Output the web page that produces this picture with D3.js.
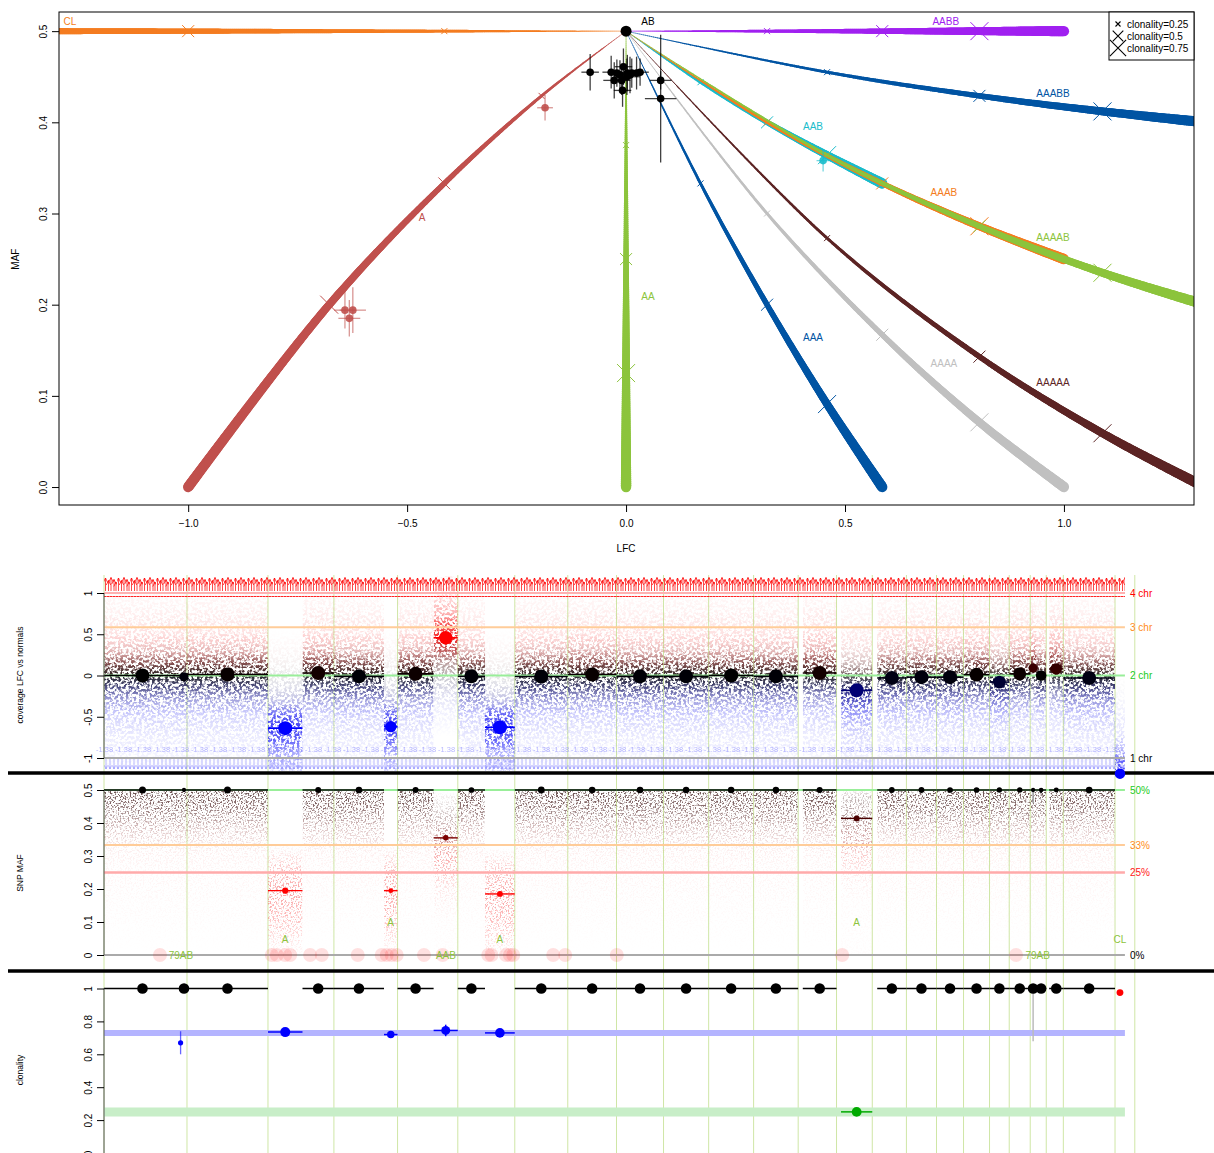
<!DOCTYPE html>
<html>
<head>
<meta charset="utf-8">
<script src="https://cdn.jsdelivr.net/npm/d3@7"></script>
<style>
  body { margin: 0; background: #fff; }
  svg { display: block; font-family: "Liberation Sans", Arial, Helvetica, sans-serif; }
</style>
</head>
<body>
<div class="canvas"></div>
<script>
// ---------- top plot: copy-number states, LFC/MAF at clonality 0, .25, .5, .75, 1 ----------
const states = ['A', 'AA', 'AAA', 'AAAA', 'AAAAA', 'AAB', 'AAAB', 'AAAAB', 'AABB', 'AAABB', 'CL'];
const clonalitySteps = [0, 0.25, 0.5, 0.75, 1];
const stateLFC = [
  [0, -0.193, -0.415, -0.678, -1],
  [0, 0, 0, 0, 0],
  [0, 0.170, 0.322, 0.459, 0.585],
  [0, 0.322, 0.585, 0.807, 1],
  [0, 0.459, 0.807, 1.088, 1.322],
  [0, 0.170, 0.322, 0.459, 0.585],
  [0, 0.322, 0.585, 0.807, 1],
  [0, 0.459, 0.807, 1.088, 1.322],
  [0, 0.322, 0.585, 0.807, 1],
  [0, 0.459, 0.807, 1.088, 1.322],
  [0, -0.415, -1, -2]
];
const stateMAF = [
  [0.5, 0.429, 0.333, 0.2, 0],
  [0.5, 0.375, 0.25, 0.125, 0],
  [0.5, 0.333, 0.2, 0.091, 0],
  [0.5, 0.3, 0.167, 0.071, 0],
  [0.5, 0.273, 0.143, 0.059, 0],
  [0.5, 0.444, 0.4, 0.364, 0.333],
  [0.5, 0.4, 0.333, 0.286, 0.25],
  [0.5, 0.364, 0.286, 0.235, 0.2],
  [0.5, 0.5, 0.5, 0.5, 0.5],
  [0.5, 0.455, 0.429, 0.412, 0.4],
  [0.5, 0.5, 0.5, 0.5]
];
const labelText = ['CL', 'AB', 'AABB', 'AAABB', 'AAB', 'AAAB', 'AAAAB', 'A', 'AA', 'AAA', 'AAAA', 'AAAAA'];
const labelLFC = [-1.27, 0.05, 0.73, 0.975, 0.427, 0.726, 0.975, -0.466, 0.05, 0.427, 0.726, 0.975];
const labelMAF = [0.511, 0.511, 0.511, 0.432, 0.395, 0.323, 0.274, 0.296, 0.209, 0.164, 0.135, 0.115];

// segment estimates shown in the top plot
const pointLFC = [0, -0.082, -0.034, -0.021, -0.006, 0.003, 0.013, 0.024, 0.032, -0.027, -0.010, 0.002, -0.008, 0.009, -0.014, 0.079, 0.079, -0.185, -0.642, -0.624, -0.632, 0.450];
const pointMAF = [0.5, 0.455, 0.455, 0.454, 0.461, 0.454, 0.454, 0.454, 0.455, 0.446, 0.446, 0.450, 0.435, 0.452, 0.452, 0.446, 0.426, 0.416, 0.194, 0.194, 0.185, 0.358];
const pointLFCErr = [0, 0.02, 0.02, 0.015, 0.02, 0.02, 0.025, 0.015, 0.02, 0.025, 0.02, 0.03, 0.02, 0.02, 0.015, 0.025, 0.036, 0.018, 0.025, 0.03, 0.025, 0.015];
const pointMAFErr = [0, 0.02, 0.018, 0.015, 0.02, 0.02, 0.016, 0.018, 0.015, 0.02, 0.016, 0.02, 0.018, 0.02, 0.016, 0.01, 0.07, 0.014, 0.02, 0.025, 0.02, 0.012];
const pointCall = ['AB', 'AB', 'AB', 'AB', 'AB', 'AB', 'AB', 'AB', 'AB', 'AB', 'AB', 'AB', 'AB', 'AB', 'AB', 'AB', 'AB', 'A', 'A', 'A', 'A', 'AAB'];
const legendClonality = [0.25, 0.5, 0.75];

// ---------- genome panels ----------
const chromNames = ['1','2','3','4','5','6','7','8','9','10','11','12','13','14','15','16','17','18','19','20','21','22','X','Y'];
const chromLengths = [249.25, 243.20, 198.02, 191.15, 180.92, 171.12, 159.14, 146.36, 141.21, 135.53, 135.01, 133.85, 115.17, 107.35, 102.53, 90.35, 81.20, 78.08, 59.13, 63.03, 48.13, 51.30, 155.27, 59.37];

// segments, genome position in Mb
const segStart = [0, 231.2, 249.25, 492.45, 596.1, 690.47, 840.9, 881.62, 989.9, 1062.54, 1144.2, 1233.66, 1392.80, 1539.16, 1680.37, 1815.90, 1950.91, 2098.6, 2213.4, 2322.1, 2409.81, 2500.16, 2581.36, 2659.44, 2718.57, 2781.60, 2799.0, 2838.5, 2881.03, 3036.30];
const segEnd = [231.2, 249.25, 492.45, 596.1, 690.47, 840.9, 881.62, 989.9, 1062.54, 1144.2, 1233.66, 1392.80, 1539.16, 1680.37, 1815.90, 1950.91, 2084.76, 2199.93, 2307.28, 2409.81, 2500.16, 2581.36, 2659.44, 2718.57, 2781.60, 2799.0, 2829.73, 2881.03, 3036.30, 3066];
const segLFC = [0, -0.016, 0.012, -0.638, 0.03, -0.01, -0.62, 0.02, 0.457, -0.01, -0.627, -0.012, 0.012, -0.01, -0.01, 0, -0.01, 0.03, -0.18, -0.03, -0.02, -0.02, 0.01, -0.08, 0.02, 0.09, 0, 0.08, -0.03, -1.19];
const segLFCErr = [0, 0, 0, 0.06, 0, 0, 0.03, 0, 0.05, 0, 0.04, 0, 0, 0, 0, 0, 0, 0, 0.02, 0, 0, 0, 0, 0, 0, 0, 0, 0, 0, 0];
const segMAF = [0.5, 0.5, 0.5, 0.195, 0.5, 0.5, 0.195, 0.5, 0.355, 0.5, 0.185, 0.5, 0.5, 0.5, 0.5, 0.5, 0.5, 0.5, 0.414, 0.5, 0.5, 0.5, 0.5, 0.5, 0.5, 0.5, 0.5, 0.5, 0.5, null];
const segMAFErr = [0, 0, 0, 0.005, 0, 0, 0.005, 0, 0.005, 0, 0.005, 0, 0, 0, 0, 0, 0, 0, 0.005, 0, 0, 0, 0, 0, 0, 0.04, 0.01, 0, 0.01, 0];
const segClonality = [1, 1, 1, 0.735, 1, 1, 0.72, 1, 0.745, 1, 0.73, 1, 1, 1, 1, 1, 1, 1, 0.25, 1, 1, 1, 1, 1, 1, 1, 1, 1, 1, 0.975];
const segClonalityErr = [0, 0, 0, 0.006, 0, 0, 0.015, 0, 0.035, 0, 0.02, 0, 0, 0, 0, 0, 0, 0, 0.005, 0, 0, 0, 0, 0, 0, 0.32, 0, 0, 0, 0];
const segClone = [0, 0, 0, 1, 0, 0, 1, 0, 1, 0, 1, 0, 0, 0, 0, 0, 0, 0, 2, 0, 0, 0, 0, 0, 0, 0, 0, 0, 0, 3];
const subclonePos = [230];
const subcloneClonality = [0.67];
const subcloneErr = [0.07];
const cloneLevels = [0.73, 0.25];

const callText = ['79AB', 'A', 'A', 'AAB', 'A', 'A', '79AB', 'CL'];
const callPos = [231, 544, 861, 1027, 1189, 2260, 2804, 3051];
const callMAF = [0, 0.048, 0.098, 0, 0.048, 0.098, 0, 0.048];
const homozygousPos = [168, 504, 519, 544, 559, 619, 654, 762, 834, 849, 864, 879, 961, 1017, 1154, 1164, 1207, 1219, 1229, 1349, 1385, 1540, 2217, 2739];

const copyLevels = [4, 3, 2, 1];
const mafLevels = [0.5, 1 / 3, 0.25, 0];
const mafLevelText = ['50%', '33%', '25%', '0%'];
const dataEndMb = 3066;

// ---------- styles ----------
const stateColors = ['#c0504d', '#8cc43c', '#0054a3', '#c0c0c0', '#5c2424', '#19bccb', '#f47c20', '#8cc43c', '#a020f0', '#0054a3', '#f47c20'];
const colorOf = name => name === 'AB' ? '#000' : stateColors[states.indexOf(name)];
const cloneColors = ['#000', '#0000ff', '#00aa00', '#ff0000'];
const copyColors = ['#ff0000', '#ff8c1a', '#22cc22', '#000'];
const copyLineColors = ['#ffb0b0', '#ffcc99', '#99ee99', '#aaaaaa'];
const mafColors = ['#22cc22', '#ff8c1a', '#ff2020', '#000'];
const mafLineColors = ['#99ee99', '#ffcc99', '#ffaaaa', '#aaaaaa'];
const font = '"Liberation Sans", Arial, Helvetica, sans-serif';

const svg = d3.select('.canvas')
    .append('svg')
    .attr('width', 1214)
    .attr('height', 1153);
const defs = svg.append('defs');

// ================= TOP PLOT =================
const xT = d3.scaleLinear().domain([-1.295, 1.297]).range([59, 1194]);
const yT = d3.scaleLinear().domain([-0.0197, 0.521]).range([505, 12]);

defs.append('clipPath').attr('id', 'clipTop')
    .append('rect').attr('x', 59).attr('y', 12).attr('width', 1135).attr('height', 493);

const topG = svg.append('g');
const curveG = topG.append('g').attr('clip-path', 'url(#clipTop)');
const lineGen = d3.line().curve(d3.curveCatmullRom.alpha(0.5));
const measure = svg.append('path').attr('fill', 'none').attr('stroke', 'none');

states.forEach((s, k) => {
    const pts = stateLFC[k].map((v, i) => [xT(v), yT(stateMAF[k][i])]);
    const lens = pts.map((p, i) => {
        if (i === 0) return 0;
        measure.attr('d', lineGen(pts.slice(0, i + 1)));
        return measure.node().getTotalLength();
    });
    measure.attr('d', lineGen(pts));
    const node = measure.node();
    const total = node.getTotalLength();
    const g = curveG.append('g')
        .attr('stroke', stateColors[k])
        .attr('stroke-linecap', 'round');
    const step = 2;
    let prev = node.getPointAtLength(0);
    for (let L = step; ; L += step) {
        const l = Math.min(L, total);
        const p = node.getPointAtLength(l);
        let i = 1;
        while (i < lens.length - 1 && lens[i] < l) i++;
        const f = Math.max(0, Math.min(1, (l - lens[i - 1]) / Math.max(1e-6, lens[i] - lens[i - 1])));
        const c = clonalitySteps[i - 1] + (clonalitySteps[i] - clonalitySteps[i - 1]) * f;
        g.append('line')
            .attr('x1', prev.x).attr('y1', prev.y)
            .attr('x2', p.x).attr('y2', p.y)
            .attr('stroke-width', 0.35 + 10 * c);
        prev = p;
        if (l >= total) break;
    }
    // clonality crosses
    [1, 2, 3].forEach(i => {
        if (i >= pts.length) return;
        const h = 3 * i;
        const [px, py] = pts[i];
        g.append('path')
            .attr('d', `M${px - h},${py - h}L${px + h},${py + h}M${px - h},${py + h}L${px + h},${py - h}`)
            .attr('stroke-width', 1)
            .attr('stroke-linecap', 'butt')
            .attr('fill', 'none');
    });
});
measure.remove();

// state labels
topG.append('g').selectAll('text')
    .data(labelText)
    .enter()
    .append('text')
    .attr('x', (d, i) => xT(labelLFC[i]))
    .attr('y', (d, i) => yT(labelMAF[i]))
    .attr('dy', '0.35em')
    .attr('text-anchor', 'middle')
    .attr('font-size', 10)
    .attr('fill', d => colorOf(d))
    .text(d => d);

// segment points with error bars
const ptG = topG.append('g');
pointLFC.forEach((v, i) => {
    const col = colorOf(pointCall[i]);
    const cx = xT(v), cy = yT(pointMAF[i]);
    const eg = ptG.append('g').attr('stroke', col).attr('stroke-opacity', pointCall[i] === 'AB' ? 0.75 : 0.6);
    if (pointLFCErr[i] > 0) {
        eg.append('line').attr('x1', xT(v - pointLFCErr[i])).attr('x2', xT(v + pointLFCErr[i]))
            .attr('y1', cy).attr('y2', cy).attr('stroke-width', 1.3);
    }
    if (pointMAFErr[i] > 0) {
        eg.append('line').attr('x1', cx).attr('x2', cx)
            .attr('y1', yT(pointMAF[i] - pointMAFErr[i])).attr('y2', yT(pointMAF[i] + pointMAFErr[i]))
            .attr('stroke-width', 1.3);
    }
});
ptG.selectAll('circle')
    .data(pointLFC)
    .enter()
    .append('circle')
    .attr('cx', d => xT(d))
    .attr('cy', (d, i) => yT(pointMAF[i]))
    .attr('r', (d, i) => pointLFCErr[i] === 0 ? 5.5 : 3.8)
    .attr('fill', (d, i) => colorOf(pointCall[i]))
    .attr('fill-opacity', (d, i) => pointCall[i] === 'AB' ? 1 : 0.9);

// box + axes
topG.append('rect').attr('x', 59).attr('y', 12).attr('width', 1135).attr('height', 493)
    .attr('fill', 'none').attr('stroke', '#000').attr('stroke-width', 1);

function styleAxis(g) {
    g.attr('font-family', font).attr('font-size', 10);
    g.select('.domain').attr('stroke', '#000');
}
function rotateLabels(g, off) {
    g.selectAll('.tick text')
        .attr('x', 0).attr('y', 0).attr('dy', 0)
        .attr('text-anchor', 'middle')
        .attr('transform', `translate(${-off},0) rotate(-90)`);
}

const yAxisTop = topG.append('g').attr('transform', 'translate(59,0)')
    .call(d3.axisLeft(yT).tickValues([0, 0.1, 0.2, 0.3, 0.4, 0.5]).tickFormat(d3.format('.1f')).tickSize(7).tickSizeOuter(0));
styleAxis(yAxisTop);
yAxisTop.select('.domain').remove();
rotateLabels(yAxisTop, 12);

const xAxisTop = topG.append('g').attr('transform', 'translate(0,505)')
    .call(d3.axisBottom(xT).tickValues([-1, -0.5, 0, 0.5, 1]).tickFormat(d3.format('.1f')).tickSize(7).tickPadding(8).tickSizeOuter(0));
styleAxis(xAxisTop);
xAxisTop.select('.domain').remove();

topG.append('text').attr('x', xT(0)).attr('y', 552).attr('text-anchor', 'middle')
    .attr('font-size', 10).text('LFC');
topG.append('text').attr('transform', `translate(19,${yT(0.25)}) rotate(-90)`)
    .attr('text-anchor', 'middle').attr('font-size', 10).text('MAF');

// legend
const leg = topG.append('g');
leg.append('rect').attr('x', 1109).attr('y', 12).attr('width', 85).attr('height', 48)
    .attr('fill', '#fff').attr('stroke', '#000');
legendClonality.forEach((c, i) => {
    const cy = 24 + i * 12, cx = 1118, h = 2.5 + 2.8 * i;
    leg.append('path')
        .attr('d', `M${cx - h},${cy - h}L${cx + h},${cy + h}M${cx - h},${cy + h}L${cx + h},${cy - h}`)
        .attr('stroke', '#000').attr('stroke-width', 1.1);
    leg.append('text').attr('x', 1127).attr('y', cy).attr('dy', '0.35em')
        .attr('font-size', 10).text('clonality=' + c);
});

// ================= GENOME PANELS =================
const chromStarts = chromLengths.map((d, i) => d3.sum(chromLengths.slice(0, i)));
const genomeLen = d3.sum(chromLengths);
const xG = d3.scaleLinear().domain([0, genomeLen]).range([104, 1134.8]);
const yL = d3.scaleLinear().domain([-1, 1]).range([758, 593]);
const yM = d3.scaleLinear().domain([0, 0.5]).range([955, 790]);
const yC = d3.scaleLinear().domain([0, 1]).range([1153, 988.5]);

const lfcColor = v => v >= 0 ? d3.interpolateRgb('#000', '#ff0000')(Math.min(1, v / 0.4))
                             : d3.interpolateRgb('#000', '#0000ff')(Math.min(1, -v / 0.4));
const mafColor = m => d3.interpolateRgb('#000', '#ff0000')(Math.min(1, Math.max(0, (0.5 - m) / 0.3)));

// chromosome boundaries
const bounds = chromStarts.concat([genomeLen]);
svg.append('g').selectAll('line')
    .data(bounds)
    .enter()
    .append('line')
    .attr('x1', d => xG(d)).attr('x2', d => xG(d))
    .attr('y1', 575).attr('y2', 1153)
    .attr('stroke', '#cfe6a6').attr('stroke-width', 1);

// speckle filters (texture for dense point clouds)
function speckle(id, freq, gain, bias, seed) {
    const f = defs.append('filter').attr('id', id)
        .attr('filterUnits', 'userSpaceOnUse').attr('x', 0).attr('y', 540).attr('width', 1214).attr('height', 440);
    f.append('feTurbulence').attr('type', 'fractalNoise').attr('baseFrequency', freq)
        .attr('numOctaves', 2).attr('seed', seed).attr('result', 'n');
    f.append('feColorMatrix').attr('in', 'n').attr('type', 'matrix')
        .attr('values', `0 0 0 0 0  0 0 0 0 0  0 0 0 0 0  ${gain} 0 0 0 ${bias}`).attr('result', 'a');
    f.append('feComposite').attr('in', 'SourceGraphic').attr('in2', 'a').attr('operator', 'in');
}
speckle('speckLFC', 0.38, 6, -2.6, 5);
speckle('speckMAF', 0.6, 6, -3.0, 9);

// colour ramps by absolute value
const lfcGrad = defs.append('linearGradient').attr('id', 'lfcCol').attr('gradientUnits', 'userSpaceOnUse')
    .attr('x1', 0).attr('x2', 0).attr('y1', yL(1)).attr('y2', yL(-1.3));
[[1, '#ff1010'], [0.45, '#f01818'], [0.25, '#902020'], [0.1, '#401010'], [0, '#100808'],
 [-0.1, '#101040'], [-0.25, '#202098'], [-0.45, '#2828f0'], [-1.3, '#3030ff']]
    .forEach(([v, c]) => lfcGrad.append('stop').attr('offset', (1 - v) / 2.3).attr('stop-color', c));
const mafGrad = defs.append('linearGradient').attr('id', 'mafCol').attr('gradientUnits', 'userSpaceOnUse')
    .attr('x1', 0).attr('x2', 0).attr('y1', yM(0.5)).attr('y2', yM(0));
[[0.5, '#3a1a1a'], [0.42, '#603030'], [0.35, '#a03030'], [0.3, '#f04040'], [0, '#ff5050']]
    .forEach(([v, c]) => mafGrad.append('stop').attr('offset', (0.5 - v) / 0.5).attr('stop-color', c));

const lfcProfile = [[1.2, 0], [0.8, 0.05], [0.5, 0.12], [0.3, 0.32], [0.15, 0.72], [0, 0.9], [-0.15, 0.72],
                    [-0.3, 0.42], [-0.5, 0.2], [-0.8, 0.08], [-1.2, 0]];
const mafProfileAB = [[0.5, 0.75], [0.46, 0.7], [0.42, 0.5], [0.38, 0.28], [0.33, 0.1], [0.25, 0.04], [0.1, 0.015], [0, 0]];
const mafProfileShift = [[0.14, 0], [0.07, 0.3], [0, 0.5], [-0.08, 0.38], [-0.16, 0.12], [-0.25, 0.02]];

defs.append('clipPath').attr('id', 'clipLFC').append('rect')
    .attr('x', 104).attr('y', 576).attr('width', 1031).attr('height', 195);
defs.append('clipPath').attr('id', 'clipMAF').append('rect')
    .attr('x', 104).attr('y', 780).attr('width', 1031).attr('height', 178);

const cloudL = svg.append('g').attr('clip-path', 'url(#clipLFC)').append('g').attr('filter', 'url(#speckLFC)');
const cloudM = svg.append('g').attr('clip-path', 'url(#clipMAF)').append('g').attr('filter', 'url(#speckMAF)');

segStart.forEach((s, i) => {
    const x0 = xG(s), w = xG(segEnd[i]) - xG(s);
    const v = segLFC[i];
    const g1 = defs.append('linearGradient').attr('id', 'gl' + i).attr('gradientUnits', 'userSpaceOnUse')
        .attr('x1', 0).attr('x2', 0).attr('y1', yL(v + 1.2)).attr('y2', yL(v - 1.2));
    lfcProfile.forEach(([d, a]) => g1.append('stop').attr('offset', (1.2 - d) / 2.4)
        .attr('stop-color', '#fff').attr('stop-opacity', a));
    defs.append('mask').attr('id', 'ml' + i).attr('maskUnits', 'userSpaceOnUse')
        .attr('x', 0).attr('y', 0).attr('width', 1214).attr('height', 1153)
        .append('rect').attr('x', x0).attr('width', w).attr('y', 560).attr('height', 220)
        .attr('fill', `url(#gl${i})`);
    cloudL.append('rect').attr('x', x0).attr('width', w).attr('y', 560).attr('height', 220)
        .attr('fill', 'url(#lfcCol)').attr('mask', `url(#ml${i})`);

    const m = segMAF[i];
    if (m === null) return;
    const g2 = defs.append('linearGradient').attr('id', 'gm' + i).attr('gradientUnits', 'userSpaceOnUse')
        .attr('x1', 0).attr('x2', 0).attr('y1', yM(0.5)).attr('y2', yM(0));
    const prof = m >= 0.45 ? mafProfileAB
        : mafProfileShift.map(([d, a]) => [Math.max(0, Math.min(0.5, m + d)), a]);
    prof.forEach(([val, a]) => g2.append('stop').attr('offset', (0.5 - val) / 0.5)
        .attr('stop-color', '#fff').attr('stop-opacity', a));
    defs.append('mask').attr('id', 'mm' + i).attr('maskUnits', 'userSpaceOnUse')
        .attr('x', 0).attr('y', 0).attr('width', 1214).attr('height', 1153)
        .append('rect').attr('x', x0).attr('width', w).attr('y', yM(0.5)).attr('height', yM(0) - yM(0.5))
        .attr('fill', `url(#gm${i})`);
    cloudM.append('rect').attr('x', x0).attr('width', w).attr('y', yM(0.5)).attr('height', yM(0) - yM(0.5))
        .attr('fill', 'url(#mafCol)').attr('mask', `url(#mm${i})`);
});

// outlier strips (points beyond the LFC axis)
const stripW = xG(dataEndMb) - xG(0);
const upArr = defs.append('pattern').attr('id', 'upArr').attr('patternUnits', 'userSpaceOnUse')
    .attr('x', 104).attr('y', 577).attr('width', 13).attr('height', 14);
[[1.5, 1], [4.5, 3.5], [7, 0.5], [10, 2.5], [12, 5]].forEach(([ax, ay]) => {
    upArr.append('path').attr('d', `M${ax},14V${ay}M${ax - 2.2},${ay + 4.5}L${ax},${ay}L${ax + 2.2},${ay + 4.5}`)
        .attr('stroke', '#ff0000').attr('stroke-width', 0.9).attr('fill', 'none').attr('stroke-opacity', 0.8);
});
const eqBar = defs.append('pattern').attr('id', 'eqBar').attr('patternUnits', 'userSpaceOnUse')
    .attr('x', 104).attr('y', 592).attr('width', 3).attr('height', 6);
eqBar.append('path').attr('d', 'M0,1H2.6M0,4.5H2.6')
    .attr('stroke', '#ff0000').attr('stroke-width', 1.2).attr('stroke-opacity', 0.85);
const dnTxt = defs.append('pattern').attr('id', 'dnTxt').attr('patternUnits', 'userSpaceOnUse')
    .attr('x', 96).attr('y', 744).attr('width', 19).attr('height', 10);
dnTxt.append('text').attr('x', 0).attr('y', 8).attr('font-size', 7.5).attr('fill', '#7a7aff')
    .attr('fill-opacity', 0.55).text('-1.38');
const dnArr = defs.append('pattern').attr('id', 'dnArr').attr('patternUnits', 'userSpaceOnUse')
    .attr('x', 104).attr('y', 759).attr('width', 4).attr('height', 11);
dnArr.append('path').attr('d', 'M2,0V10M0.4,6.4L2,10L3.6,6.4')
    .attr('stroke', '#6a6aff').attr('stroke-width', 0.8).attr('fill', 'none').attr('stroke-opacity', 0.6);

const strips = svg.append('g');
strips.append('rect').attr('x', xG(0)).attr('y', 577).attr('width', stripW).attr('height', 14).attr('fill', 'url(#upArr)');
strips.append('rect').attr('x', xG(0)).attr('y', 592).attr('width', stripW).attr('height', 6).attr('fill', 'url(#eqBar)');
strips.append('rect').attr('x', xG(0) - 8).attr('y', 744).attr('width', stripW + 8).attr('height', 10).attr('fill', 'url(#dnTxt)');
strips.append('rect').attr('x', xG(0)).attr('y', 759).attr('width', stripW).attr('height', 11).attr('fill', 'url(#dnArr)');

// reference lines
const refG = svg.append('g');
copyLevels.forEach((n, i) => {
    const y = yL(Math.log2(n / 2));
    refG.append('line').attr('x1', xG(0)).attr('x2', xG(dataEndMb)).attr('y1', y).attr('y2', y)
        .attr('stroke', copyLineColors[i]).attr('stroke-width', 2);
    refG.append('text').attr('x', 1130).attr('y', y).attr('dy', '0.35em').attr('font-size', 10)
        .attr('fill', copyColors[i]).text(n + ' chr');
});
mafLevels.forEach((m, i) => {
    const y = yM(m);
    refG.append('line').attr('x1', xG(0)).attr('x2', xG(dataEndMb)).attr('y1', y).attr('y2', y)
        .attr('stroke', mafLineColors[i]).attr('stroke-width', i === 2 ? 2.5 : 2);
    refG.append('text').attr('x', 1130).attr('y', y).attr('dy', '0.35em').attr('font-size', 10)
        .attr('fill', mafColors[i]).text(mafLevelText[i]);
});
refG.append('line').attr('x1', xG(0)).attr('x2', xG(dataEndMb)).attr('y1', yC(cloneLevels[0])).attr('y2', yC(cloneLevels[0]))
    .attr('stroke', '#b4b4ff').attr('stroke-width', 6);
refG.append('line').attr('x1', xG(0)).attr('x2', xG(dataEndMb)).attr('y1', yC(cloneLevels[1])).attr('y2', yC(cloneLevels[1]))
    .attr('stroke', '#c8eec8').attr('stroke-width', 9);

// homozygous SNP markers and call labels (MAF panel)
svg.append('g').selectAll('circle')
    .data(homozygousPos)
    .enter()
    .append('circle')
    .attr('cx', d => xG(d)).attr('cy', yM(0)).attr('r', 7)
    .attr('fill', '#ff0000').attr('fill-opacity', 0.12);
svg.append('g').selectAll('text')
    .data(callText)
    .enter()
    .append('text')
    .attr('x', (d, i) => xG(callPos[i]))
    .attr('y', (d, i) => yM(callMAF[i]))
    .attr('dy', '0.35em')
    .attr('text-anchor', 'middle')
    .attr('font-size', 10)
    .attr('fill', '#8cc43c')
    .text(d => d);

// panel separators
svg.append('g').selectAll('line')
    .data([773, 971])
    .enter()
    .append('line')
    .attr('x1', 8).attr('x2', 1214).attr('y1', d => d).attr('y2', d => d)
    .attr('stroke', '#000').attr('stroke-width', 3.5);

// segments
const segR = (i, cap, base, k) => Math.min(cap, base + k * Math.sqrt(segEnd[i] - segStart[i]));
const segG = svg.append('g');
segStart.forEach((s, i) => {
    const x0 = xG(s), x1 = xG(segEnd[i]), xm = (x0 + x1) / 2;
    // LFC
    const lc = lfcColor(segLFC[i]);
    segG.append('line').attr('x1', x0).attr('x2', x1).attr('y1', yL(segLFC[i])).attr('y2', yL(segLFC[i]))
        .attr('stroke', lc).attr('stroke-width', 1.6);
    if (segLFCErr[i] > 0) {
        segG.append('line').attr('x1', xm).attr('x2', xm)
            .attr('y1', yL(segLFC[i] - segLFCErr[i])).attr('y2', yL(segLFC[i] + segLFCErr[i]))
            .attr('stroke', lc).attr('stroke-width', 1.5);
    }
    segG.append('circle').attr('cx', xm).attr('cy', yL(segLFC[i])).attr('r', segR(i, 7, 2.5, 0.5)).attr('fill', lc);
    // MAF
    if (segMAF[i] !== null) {
        const mc = mafColor(segMAF[i]);
        segG.append('line').attr('x1', x0).attr('x2', x1).attr('y1', yM(segMAF[i])).attr('y2', yM(segMAF[i]))
            .attr('stroke', mc).attr('stroke-width', 1.4);
        if (segMAFErr[i] > 0) {
            segG.append('line').attr('x1', xm).attr('x2', xm)
                .attr('y1', yM(segMAF[i] - segMAFErr[i])).attr('y2', yM(Math.min(0.5, segMAF[i] + segMAFErr[i])))
                .attr('stroke', segMAFErr[i] > 0.02 ? '#999' : mc).attr('stroke-width', 1.5);
        }
        segG.append('circle').attr('cx', xm).attr('cy', yM(segMAF[i])).attr('r', segR(i, 3.5, 1.5, 0.15)).attr('fill', mc);
    }
    // clonality
    const cc = cloneColors[segClone[i]];
    const c = segClonality[i];
    if (segClone[i] !== 3) {
        segG.append('line').attr('x1', x0).attr('x2', x1).attr('y1', yC(c)).attr('y2', yC(c))
            .attr('stroke', cc).attr('stroke-width', 1.5);
    }
    if (segClonalityErr[i] > 0) {
        segG.append('line').attr('x1', xm).attr('x2', xm)
            .attr('y1', yC(c - segClonalityErr[i])).attr('y2', yC(Math.min(1, c + segClonalityErr[i])))
            .attr('stroke', segClone[i] === 0 ? '#bbb' : cc).attr('stroke-width', 1.5);
    }
    segG.append('circle').attr('cx', xm).attr('cy', yC(c))
        .attr('r', segClone[i] === 0 ? 5.3 : segR(i, 5, 1.5, 0.35)).attr('fill', cc);
});
subclonePos.forEach((p, i) => {
    segG.append('line').attr('x1', xG(p)).attr('x2', xG(p))
        .attr('y1', yC(subcloneClonality[i] - subcloneErr[i])).attr('y2', yC(subcloneClonality[i] + subcloneErr[i]))
        .attr('stroke', '#0000ff').attr('stroke-opacity', 0.6).attr('stroke-width', 1.3);
    segG.append('circle').attr('cx', xG(p)).attr('cy', yC(subcloneClonality[i])).attr('r', 2.6).attr('fill', '#0000ff');
});

// panel axes
function panelAxis(scale, ticks, title, titleY) {
    const g = svg.append('g').attr('transform', 'translate(104,0)')
        .call(d3.axisLeft(scale).tickValues(ticks).tickFormat(d => String(d)).tickSize(7).tickSizeOuter(0));
    styleAxis(g);
    g.select('.domain').attr('d', `M0,${scale(d3.min(ticks))}V${scale(d3.max(ticks))}`).attr('stroke', '#555');
    rotateLabels(g, 12);
    svg.append('text').attr('transform', `translate(23,${titleY}) rotate(-90)`)
        .attr('text-anchor', 'middle').attr('font-size', 8.5).text(title);
}
panelAxis(yL, [-1, -0.5, 0, 0.5, 1], 'coverage LFC vs normals', 675);
panelAxis(yM, [0, 0.1, 0.2, 0.3, 0.4, 0.5], 'SNP MAF', 873);
panelAxis(yC, [0, 0.2, 0.4, 0.6, 0.8, 1], 'clonality', 1070);
</script>
</body>
</html>
